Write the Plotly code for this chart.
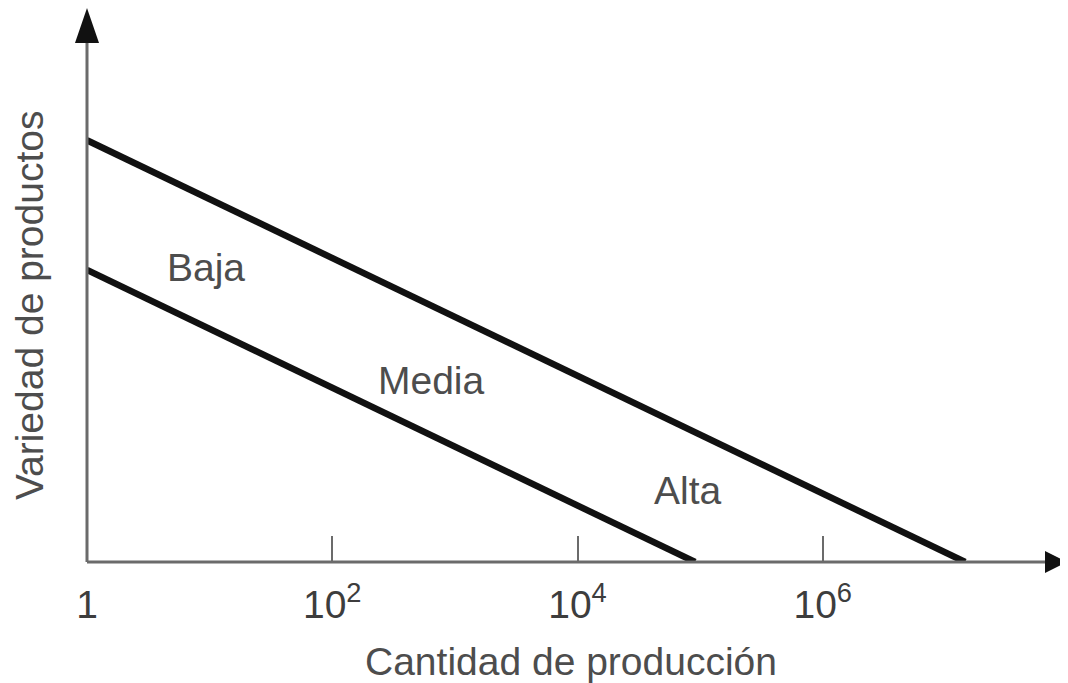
import math
import plotly.graph_objects as go

# ---- data ----
tick_values = [1, 1e2, 1e4, 1e6]
tick_labels = ["1", "10<sup>2</sup>", "10<sup>4</sup>", "10<sup>6</sup>"]

# lower boundary line (Baja / Media)
lower_x = [1, 9.1e4]
lower_y = [5.29, 0]
# upper boundary line (Media / Alta)
upper_x = [1, 1.45e7]
upper_y = [7.64, 0]

region_names = ["Baja", "Media", "Alta"]
region_x = [9.35, 640, 7.9e4]
region_y = [5.33, 3.28, 1.29]

x_title = "Cantidad de producción"
y_title = "Variedad de productos"

TXT = "#4d4d4d"
AX = "#6b6b6b"
FONT = "Liberation Sans, Arial, sans-serif"
FS = 39

fig = go.Figure()
for xs, ys in [(lower_x, lower_y), (upper_x, upper_y)]:
    fig.add_trace(go.Scatter(x=xs, y=ys, mode="lines",
                             line=dict(color="#111111", width=6.5),
                             showlegend=False, hoverinfo="skip"))

for name, xv, yv in zip(region_names, region_x, region_y):
    fig.add_annotation(x=math.log10(xv), y=yv, text=name,
                       showarrow=False, xref="x", yref="y",
                       font=dict(family=FONT, size=FS, color=TXT),
                       xanchor="center", yanchor="middle")

# axis titles
fig.add_annotation(x=0.493, y=-0.181, xref="paper", yref="paper", text=x_title,
                   showarrow=False, font=dict(family=FONT, size=FS, color=TXT),
                   xanchor="center", yanchor="middle")
fig.add_annotation(x=-0.058, y=0.4656, xref="paper", yref="paper", text=y_title,
                   showarrow=False, textangle=-90,
                   font=dict(family=FONT, size=FS, color=TXT),
                   xanchor="center", yanchor="middle")

# axis lines with arrowheads
fig.add_shape(type="line", xref="paper", yref="paper", x0=0, y0=0, x1=0.98, y1=0,
              line=dict(color=AX, width=3))
fig.add_shape(type="line", xref="paper", yref="paper", x0=0, y0=0, x1=0, y1=0.94,
              line=dict(color=AX, width=3))
fig.add_shape(type="path", xref="paper", yref="paper", xsizemode="pixel", ysizemode="pixel",
              xanchor=1, yanchor=0, path="M-23,-11 L-1,0 L-23,11 Z",
              fillcolor="#111111", line=dict(width=0))
fig.add_shape(type="path", xref="paper", yref="paper", xsizemode="pixel", ysizemode="pixel",
              xanchor=0, yanchor=1, path="M-12,-33 L0,2 L12,-33 Z",
              fillcolor="#111111", line=dict(width=0))

fig.update_xaxes(type="log", range=[0, 8], tickvals=tick_values, ticktext=tick_labels,
                 ticks="inside", ticklen=26, tickwidth=2, tickcolor=AX,
                 showgrid=False, showline=False, zeroline=False,
                 tickfont=dict(family=FONT, size=FS, color="#3d3d3d"),
                 ticklabelstandoff=16)
fig.update_yaxes(range=[0, 10], showgrid=False, showline=False, zeroline=False,
                 showticklabels=False, ticks="")

# page body adds an 8px margin, so the figure is sized/offset to compensate
fig.update_layout(width=1060, height=675, margin=dict(l=79, r=0, t=2, b=121),
                  paper_bgcolor="white", plot_bgcolor="white",
                  font=dict(family=FONT))

fig.write_html("out.html")
